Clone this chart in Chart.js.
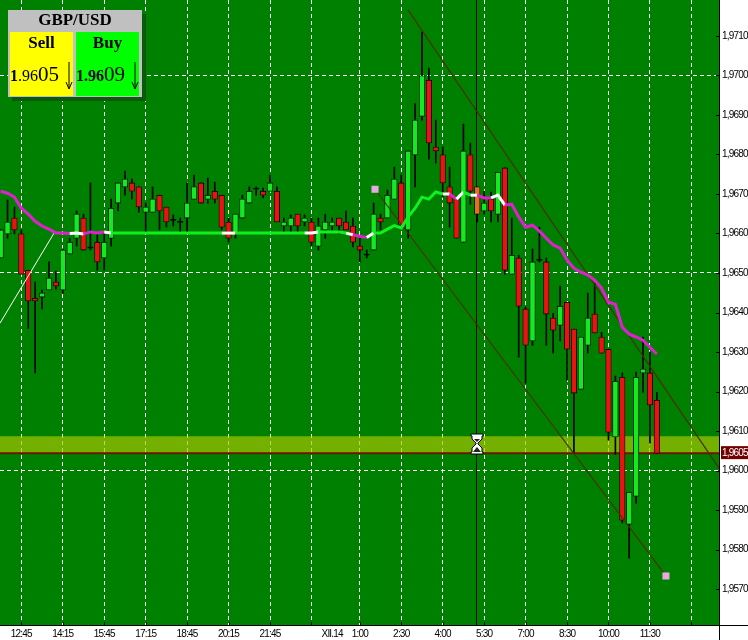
<!DOCTYPE html>
<html>
<head>
<meta charset="utf-8">
<script src="https://cdn.jsdelivr.net/npm/chart.js@4/dist/chart.umd.js"></script>
<style>
  body { margin: 0; background: #fff; }
  #wrap { position: relative; width: 748px; height: 640px; overflow: hidden; }
  #chart { position: absolute; left: 0; top: 0; }
  #panel { position: absolute; left: 8px; top: 10px; width: 134px; height: 87px; background: #c0c0c0;
    box-shadow: 4px 4px 0 #0a5a0a; font-family: "Liberation Serif", serif; color: #000; }
  #panel .title { position: absolute; left: 0; top: 0; width: 134px; text-align: center; font: bold 17px/20px "Liberation Serif", serif; }
  .side { position: absolute; top: 22px; width: 63px; height: 64px; }
  .side .name { position: absolute; left: 0; top: 1px; width: 100%; text-align: center; font: bold 17px/20px "Liberation Serif", serif; }
  .side .px { position: absolute; left: 0; top: 30px; white-space: nowrap; line-height: 24px; font-size: 16px; }
  .side .px span { font-size: 21px; }
  .side svg { position: absolute; top: 30px; }
  #sell { left: 2px; background: #ffff00; }
  #buy { left: 68px; background: #00ff00; }
  #glass { position: absolute; left: 470px; top: 433px; }
</style>
</head>
<body>
<div id="wrap">
  <canvas id="chart" width="748" height="640"></canvas>
  <div id="panel">
    <div class="title">GBP/USD</div>
    <div class="side" id="sell">
      <div class="name">Sell</div>
      <div class="px"><b>1</b>.96<span>05</span></div>
      <svg width="8" height="28" style="left:55px"><path d="M4 0V26M1 20L4 27L7 20" fill="none" stroke="#000"/></svg>
    </div>
    <div class="side" id="buy">
      <div class="name">Buy</div>
      <div class="px"><b>1.96</b><span>09</span></div>
      <svg width="8" height="28" style="left:55px"><path d="M4 0V26M1 20L4 27L7 20" fill="none" stroke="#000"/></svg>
    </div>
  </div>
  <svg id="glass" width="14" height="22">
    <path d="M1 1H13V3H12V6L8 10V11L12 15V19H13V21H1V19H2V15L6 11V10L2 6V3H1Z" fill="#fff" stroke="#000"/>
    <path d="M4 6H10L7 9ZM7 14L11 19H3Z" fill="#222"/>
  </svg>
</div>

<script>
// ================================= data =================================
var timeTicks = [3, 9, 15, 21, 27, 33, 39, 45, 48, 52, 58, 64, 70, 76, 82, 88, 94, 100];
var timeLabels = ['12:45', '14:15', '15:45', '17:15', '18:45', '20:15', '21:45', '', 'XII.14', '1:00',
  '2:30', '4:00', '5:30', '7:00', '8:30', '10:00', '11:30', ''];
var priceTicks = [1.957, 1.958, 1.959, 1.96, 1.961, 1.962, 1.963, 1.964, 1.965, 1.966, 1.967, 1.968, 1.969, 1.97, 1.971];
var priceGrid = [1.96, 1.965, 1.97];

var opens = [1.96538, 1.96599, 1.96639, 1.96599, 1.96507, 1.96436, 1.96439, 1.96457, 1.96477, 1.96457,
  1.96548, 1.96588, 1.96639, 1.96566, 1.96578, 1.96538, 1.96588, 1.96677, 1.96718, 1.96728,
  1.96718, 1.96654, 1.96654, 1.96697, 1.96667, 1.96636, 1.96631, 1.96639, 1.96687, 1.96728,
  1.96687, 1.96707, 1.96697, 1.96629, 1.96599, 1.96639, 1.96677, 1.96715, 1.96707, 1.96707,
  1.96707, 1.96619, 1.96619, 1.96649, 1.96629, 1.96629, 1.96568, 1.96609, 1.96619, 1.96639,
  1.96629, 1.96619, 1.96568, 1.96548, 1.96558, 1.96639, 1.96639, 1.96687, 1.96728, 1.96609,
  1.96799, 1.96897, 1.96988, 1.96819, 1.96799, 1.96718, 1.96692, 1.96578, 1.96799, 1.96718,
  1.96657, 1.96687, 1.96649, 1.96766, 1.96497, 1.96538, 1.96409, 1.96328, 1.96535, 1.96528,
  1.96386, 1.96368, 1.96426, 1.96358, 1.96206, 1.96317, 1.96396, 1.96338, 1.96307, 1.96085,
  1.96236, 1.95864, 1.95935, 1.96247, 1.96247, 1.96178];
var closes = [1.96609, 1.96629, 1.96609, 1.96497, 1.96429, 1.96429, 1.96449, 1.96487, 1.96467, 1.96558,
  1.96578, 1.96649, 1.96558, 1.96563, 1.96528, 1.96578, 1.96664, 1.96728, 1.96738, 1.96707,
  1.96667, 1.96667, 1.96687, 1.96657, 1.96629, 1.96633, 1.96628, 1.96677, 1.96718, 1.96677,
  1.96697, 1.96687, 1.96616, 1.96588, 1.96649, 1.96687, 1.96707, 1.96712, 1.96697, 1.96728,
  1.96629, 1.96629, 1.96639, 1.96619, 1.96639, 1.96578, 1.96619, 1.96629, 1.96629, 1.96619,
  1.96609, 1.96578, 1.96558, 1.96545, 1.96649, 1.96629, 1.96697, 1.96738, 1.96621, 1.96809,
  1.96887, 1.96999, 1.96829, 1.96809, 1.96728, 1.96677, 1.96588, 1.96809, 1.96707, 1.96649,
  1.96677, 1.96657, 1.96755, 1.96507, 1.96545, 1.96416, 1.96317, 1.96528, 1.96532, 1.96396,
  1.96355, 1.96416, 1.96307, 1.96196, 1.96338, 1.96386, 1.96348, 1.96297, 1.96097, 1.96226,
  1.95874, 1.95945, 1.96236, 1.96257, 1.96166, 1.96044];
var highs = [1.96609, 1.96685, 1.96667, 1.96609, 1.96507, 1.96477, 1.96457, 1.96528, 1.96505, 1.96561,
  1.96588, 1.96657, 1.96649, 1.96728, 1.96599, 1.96604, 1.96687, 1.96728, 1.96758, 1.96738,
  1.96718, 1.96677, 1.96718, 1.96697, 1.96667, 1.96647, 1.96639, 1.96728, 1.96748, 1.96728,
  1.96740, 1.96730, 1.96697, 1.96639, 1.96649, 1.96697, 1.96718, 1.96718, 1.96715, 1.96748,
  1.96718, 1.96639, 1.96647, 1.96649, 1.96647, 1.96639, 1.96639, 1.96649, 1.96639, 1.96639,
  1.96657, 1.96639, 1.96588, 1.96558, 1.96677, 1.96649, 1.96710, 1.96768, 1.96748, 1.96809,
  1.96928, 1.97110, 1.97019, 1.96887, 1.96819, 1.96768, 1.96692, 1.96877, 1.96829, 1.96718,
  1.96707, 1.96705, 1.96755, 1.96766, 1.96639, 1.96545, 1.96414, 1.96561, 1.96616, 1.96538,
  1.96398, 1.96467, 1.96426, 1.96358, 1.96338, 1.96449, 1.96474, 1.96350, 1.96307, 1.96239,
  1.96247, 1.95945, 1.96249, 1.96338, 1.96300, 1.96198];
var lows = [1.96538, 1.96588, 1.96599, 1.96497, 1.96360, 1.96247, 1.96409, 1.96457, 1.96459, 1.96449,
  1.96548, 1.96568, 1.96558, 1.96558, 1.96507, 1.96507, 1.96568, 1.96657, 1.96697, 1.96687,
  1.96654, 1.96604, 1.96654, 1.96609, 1.96616, 1.96619, 1.96604, 1.96604, 1.96687, 1.96677,
  1.96677, 1.96677, 1.96609, 1.96578, 1.96588, 1.96639, 1.96677, 1.96697, 1.96690, 1.96707,
  1.96629, 1.96604, 1.96604, 1.96604, 1.96619, 1.96568, 1.96558, 1.96588, 1.96609, 1.96599,
  1.96609, 1.96566, 1.96528, 1.96538, 1.96558, 1.96609, 1.96639, 1.96687, 1.96621, 1.96588,
  1.96718, 1.96887, 1.96788, 1.96778, 1.96692, 1.96616, 1.96588, 1.96578, 1.96674, 1.96629,
  1.96649, 1.96629, 1.96629, 1.96497, 1.96497, 1.96287, 1.96221, 1.96317, 1.96528, 1.96317,
  1.96297, 1.96328, 1.96229, 1.96044, 1.96206, 1.96297, 1.96348, 1.96297, 1.96077, 1.96041,
  1.95867, 1.95778, 1.95917, 1.96198, 1.96069, 1.96044];

// moving average, one value per bar
var maValues = [1.96707, 1.96702, 1.96692, 1.96664, 1.96649, 1.96631, 1.96619, 1.96611, 1.96601, 1.96601,
  1.96600, 1.96601, 1.96599, 1.96604, 1.96601, 1.96604, 1.96601, 1.96601, 1.96601, 1.96601,
  1.96601, 1.96601, 1.96601, 1.96601, 1.96601, 1.96601, 1.96601, 1.96601, 1.96601, 1.96601,
  1.96601, 1.96601, 1.96601, 1.96601, 1.96601, 1.96601, 1.96601, 1.96601, 1.96601, 1.96601,
  1.96601, 1.96601, 1.96601, 1.96601, 1.96601, 1.96601, 1.96604, 1.96604, 1.96604, 1.96604,
  1.96601, 1.96597, 1.96593, 1.96590, 1.96601, 1.96601, 1.96611, 1.96620, 1.96614, 1.96642,
  1.96664, 1.96692, 1.96687, 1.96705, 1.96700, 1.96700, 1.96687, 1.96705, 1.96697, 1.96697,
  1.96690, 1.96690, 1.96697, 1.96672, 1.96674, 1.96642, 1.96616, 1.96621, 1.96606, 1.96588,
  1.96571, 1.96563, 1.96533, 1.96512, 1.96502, 1.96495, 1.96482, 1.96462, 1.96426, 1.96421,
  1.96363, 1.96345, 1.96338, 1.96330, 1.96312, 1.96295];
// colour state of each ma segment: m = falling, g = rising, w = turning
var maTrend = 'mmmmmmmmmm' + 'ww' + 'mmm' + 'w' + 'gggggggggggggggg' + 'ww' + 'gggggggggg' + 'ww' + 'gggg' + 'w' +
  'mm' + 'w' + 'gggggggggg' + 'w' + 'm' + 'w' + 'g' + 'w' + 'mm' + 'ww' + 'mmmmmmmmmmmmmmmmmmmmmm';

var whiteLineX = [-0.09, 7.73];
var whiteLineY = [1.96373, 1.96601];
var upperChannelX = [58.98, 104];
var upperChannelY = [1.97166, 1.96006];
var lowerChannelX = [54.2, 96.32];
var lowerChannelY = [1.96712, 1.95733];
var cursorBar = 68.89;
var bandTop = 1.96087;
var bandBottom = 1.96044;
var bidLabel = '1,9605';

var xMin = -0.09, xMax = 104;
var yMin = 1.956089, yMax = 1.971911;

// ================================= helpers =================================
function series(xs, ys) {
  return xs.map(function(x, i) { return { x: x, y: ys[i] }; });
}
var bars = opens.map(function(o, i) { return i; });
var bodyColors = opens.map(function(o, i) {
  if (Math.abs(o - closes[i]) < 0.00005) return '#000';
  if (i == 69) return '#e2701c';
  return closes[i] > o ? '#14ea22' : '#ea1212';
});
var trendColors = { m: '#e020d0', g: '#10f020', w: '#ffffff' };
var axisFont = { family: '"Liberation Sans", sans-serif', size: 10 };

// ================================= frame =================================
var framePlugin = {
  id: 'frame',
  beforeDraw: function(chart) {
    var c = chart.ctx, a = chart.chartArea;
    c.fillStyle = '#008000';
    c.fillRect(a.left, a.top, a.right - a.left, a.bottom - a.top);
    c.letterSpacing = '-0.8px';
  },
  afterDraw: function(chart) {
    var c = chart.ctx, a = chart.chartArea, sx = chart.scales.x, sy = chart.scales.y;
    c.save();
    c.strokeStyle = '#000';
    c.lineWidth = 1;
    c.beginPath();
    c.moveTo(0, a.bottom + 0.5); c.lineTo(748, a.bottom + 0.5);
    c.moveTo(a.right + 0.5, 0); c.lineTo(a.right + 0.5, 640);
    timeTicks.forEach(function(t, i) {
      if (timeLabels[i] == 'XII.14') return;
      var x = Math.round(sx.getPixelForValue(t)) + 0.5;
      c.moveTo(x, a.bottom - 3); c.lineTo(x, a.bottom);
    });
    priceTicks.forEach(function(p) {
      var y = Math.round(sy.getPixelForValue(p)) + 0.5;
      c.moveTo(a.right - 3, y); c.lineTo(a.right, y);
    });
    c.stroke();
    // bid price box on the axis
    var by = sy.getPixelForValue(bandBottom);
    c.fillStyle = '#730000';
    c.fillRect(721, by - 7, 27, 13);
    c.fillStyle = '#fff';
    c.font = '10px "Liberation Sans", sans-serif';
    c.textAlign = 'left';
    c.textBaseline = 'middle';
    c.fillText(bidLabel, 722, by);
    c.restore();
  }
};

// ================================= chart =================================
new Chart(document.getElementById('chart'), {
  type: 'bar',
  plugins: [framePlugin],
  data: {
    datasets: [
      {
        type: 'line', order: 20, data: series([xMin, xMax], [bandTop, bandTop]),
        borderWidth: 0, pointRadius: 0,
        backgroundColor: 'rgba(165, 197, 0, 0.7)', fill: { value: bandBottom }
      },
      {
        type: 'line', order: 19, data: series([xMin, xMax], [bandBottom, bandBottom]),
        borderColor: '#701400', borderWidth: 2, pointRadius: 0
      },
      {
        type: 'line', order: 18, data: series([cursorBar, cursorBar], [yMin, yMax]),
        borderColor: '#000', borderWidth: 1, pointRadius: 0
      },
      {
        type: 'bar', order: 10, grouped: false, barThickness: 1, backgroundColor: '#000',
        data: bars.map(function(i) { return { x: i, y: [lows[i], highs[i]] }; })
      },
      {
        type: 'bar', order: 9, grouped: false, barThickness: 5.5, backgroundColor: bodyColors,
        borderColor: '#000', borderWidth: 0.8, borderSkipped: false,
        data: bars.map(function(i) { return { x: i, y: [opens[i], closes[i]] }; })
      },
      {
        type: 'line', order: 5, data: series(upperChannelX, upperChannelY),
        borderColor: '#4a3000', borderWidth: 1.2, pointRadius: 0
      },
      {
        type: 'line', order: 5, data: series(lowerChannelX, lowerChannelY),
        borderColor: '#4a3000', borderWidth: 1.2,
        pointStyle: 'rect', pointRadius: 5, pointBackgroundColor: '#e8a8e0', pointBorderWidth: 0
      },
      {
        type: 'line', order: 4, data: series(whiteLineX, whiteLineY),
        borderColor: '#fff', borderWidth: 1, pointRadius: 0
      },
      {
        type: 'line', order: 1, data: series(bars, maValues),
        borderWidth: 3, pointRadius: 0, tension: 0, borderColor: '#e020d0',
        segment: {
          borderColor: function(ctx) { return trendColors[maTrend[ctx.p0DataIndex]]; }
        }
      }
    ]
  },
  options: {
    responsive: false,
    animation: false,
    layout: { padding: 0, autoPadding: false },
    plugins: { legend: { display: false }, tooltip: { enabled: false } },
    scales: {
      x: {
        type: 'linear', min: xMin, max: xMax, offset: false,
        afterBuildTicks: function(scale) {
          scale.ticks = timeTicks.map(function(t) { return { value: t }; });
        },
        afterFit: function(scale) {
          scale.height = 15;
          scale.paddingLeft = 0;
          scale.paddingRight = 0;
        },
        grid: {
          offset: false, drawTicks: false,
          color: function(ctx) {
            if (ctx.tick && timeLabels[timeTicks.indexOf(ctx.tick.value)] == 'XII.14') return 'transparent';
            return '#fff';
          }
        },
        border: { display: false, dash: [4, 3] },
        ticks: {
          autoSkip: false, maxRotation: 0, padding: 3, color: '#000', font: axisFont,
          callback: function(v) { return timeLabels[timeTicks.indexOf(v)]; }
        }
      },
      y: {
        position: 'right', min: yMin, max: yMax,
        afterBuildTicks: function(scale) {
          scale.ticks = priceTicks.map(function(p) { return { value: p }; });
        },
        afterFit: function(scale) {
          scale.width = 29;
          scale.paddingTop = 0;
          scale.paddingBottom = 0;
        },
        grid: {
          drawTicks: false,
          color: function(ctx) {
            return ctx.tick && priceGrid.indexOf(ctx.tick.value) >= 0 ? '#fff' : 'transparent';
          }
        },
        border: { display: false, dash: [4, 3] },
        ticks: {
          padding: 3, color: '#000', font: axisFont,
          callback: function(v) { return v.toFixed(4).replace('.', ','); }
        }
      }
    }
  }
});
</script>
</body>
</html>
